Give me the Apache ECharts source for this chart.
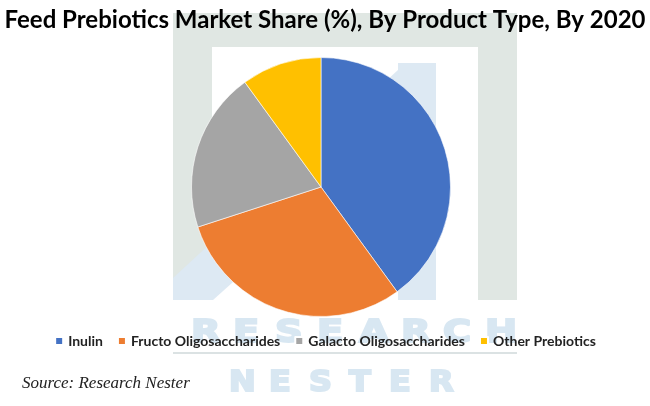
<!DOCTYPE html>
<html>
<head>
<meta charset="utf-8">
<script src="https://cdn.jsdelivr.net/npm/echarts@6/dist/echarts.min.js"></script>
<style>html,body{margin:0;padding:0;background:#fff}#c{width:650px;height:406px}</style>
</head>
<body>
<div id="c"></div>
<script>
var titleText = 'Feed Prebiotics Market Share (%), By Product Type, By 2020';
var categories = ['Inulin', 'Fructo Oligosaccharides', 'Galacto Oligosaccharides', 'Other Prebiotics'];
var shares = [40, 30, 20, 10];
var colors = ['#4472C4', '#ED7D31', '#A5A5A5', '#FFC000'];
var sourceText = 'Source: Research Nester';

var wmGray = '#e0e7e3';
var wmBlue = '#dde9f3';
var wmLetter = '#d8e7f2';
var graphics = [
  {type: 'rect', z: -10, shape: {x: 173, y: 13, width: 344, height: 287}, style: {fill: wmGray}},
  {type: 'rect', z: -9, shape: {x: 212, y: 47, width: 266, height: 253}, style: {fill: '#ffffff'}},
  {type: 'rect', z: -8, shape: {x: 398, y: 63, width: 38, height: 237}, style: {fill: wmBlue}},
  {type: 'polygon', z: -8, shape: {points: [[173, 278], [398, 70], [436, 70], [436, 100], [213, 300], [173, 300]]}, style: {fill: wmBlue}},
  {type: 'rect', z: -8, shape: {x: 173, y: 352, width: 344, height: 2}, style: {fill: '#dbe2e3'}}
];
function wmWord(word, x0, pitch, yc, size, sx) {
  for (var i = 0; i < word.length; i++) {
    graphics.push({type: 'text', z: -7, x: x0 + i * pitch, y: yc, scale: [sx, 1], scaleX: sx,
      style: {text: word[i], fill: wmLetter, stroke: wmLetter, lineWidth: 2,
        font: 'bold ' + size + 'px "DejaVu Sans"', textAlign: 'left', textVerticalAlign: 'middle'}});
  }
}
wmWord('RESEARCH', 191, 42, 334, 32, 1.2);
wmWord('NESTER', 229, 40, 383, 29, 1.1);
graphics.push({type: 'text', z: 5, left: 22, top: 375,
  style: {text: sourceText, fill: '#222', font: 'italic 17px "Liberation Serif"'}});

var chart = echarts.init(document.getElementById('c'));
chart.setOption({
  backgroundColor: '#ffffff',
  animation: false,
  title: {
    text: titleText, left: 'center', top: 3,
    textStyle: {fontFamily: 'Lato', fontWeight: 'bold', fontSize: 24, color: '#000'}
  },
  legend: {
    data: categories, top: 329, left: 'center',
    icon: 'rect', itemWidth: 8, itemHeight: 8, itemGap: 14,
    textStyle: {fontFamily: 'Lato', fontWeight: 'bold', fontSize: 14, color: '#222'}
  },
  graphic: graphics,
  series: [{
    type: 'pie',
    center: [321, 187], radius: 129.5,
    startAngle: 90, clockwise: true,
    label: {show: false}, labelLine: {show: false},
    itemStyle: {borderColor: '#ffffff', borderWidth: 0.6},
    emphasis: {disabled: true},
    data: categories.map(function (c, i) { return {name: c, value: shares[i], itemStyle: {color: colors[i]}}; })
  }]
});
</script>
</body>
</html>
